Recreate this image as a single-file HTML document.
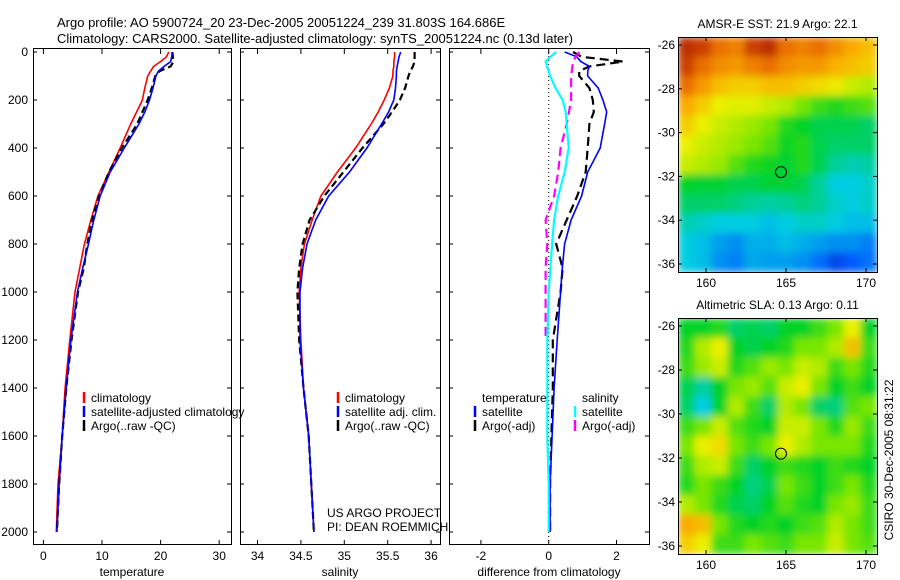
<!DOCTYPE html>
<html><head><meta charset="utf-8"><style>
html,body{margin:0;padding:0;background:#fff;}
svg{display:block;font-family:"Liberation Sans",Arial,sans-serif;}
text{font-size:12px;fill:#000;}
</style></head><body>
<svg id="c" width="900" height="580" viewBox="0 0 900 580">
<defs>
<filter id="bl" x="0" y="0" width="1" height="1"><feGaussianBlur stdDeviation="4" edgeMode="duplicate"/></filter>
<clipPath id="cm1"><rect x="678" y="37" width="199" height="235"/></clipPath>
<clipPath id="cm2"><rect x="678" y="318" width="199" height="236"/></clipPath>
</defs>
<text x="57" y="27" style="font-size:13px">Argo profile: AO 5900724_20 23-Dec-2005 20051224_239 31.803S 164.686E</text>
<text x="57" y="43" style="font-size:13px">Climatology: CARS2000. Satellite-adjusted climatology: synTS_20051224.nc (0.13d later)</text>
<g id="g"></g>
</svg>
<script>
// ---- profile data ----
const depths=[0,20,40,60,80,100,150,200,250,300,400,500,600,700,800,900,1000,1200,1400,1600,1800,2000];
const tempClim=[21.4,21.0,20.0,18.8,18.3,17.8,17.3,16.9,15.9,14.9,13.1,11.2,9.3,8.1,7.0,6.2,5.4,4.5,3.7,3.2,2.5,2.2];
const tempSat=[22.0,21.9,21.7,20.6,19.6,19.2,18.7,18.1,17.3,16.3,13.8,11.4,9.7,8.6,7.7,6.7,5.8,4.7,3.9,3.2,2.7,2.3];
const tempArgo=[22.0,22.1,22.2,21.7,19.8,19.1,18.5,17.8,16.9,16.0,13.4,11.2,9.5,8.3,7.5,6.9,5.9,4.8,3.9,3.2,2.7,2.3];
const salClim=[35.58,35.58,35.57,35.57,35.56,35.56,35.52,35.46,35.39,35.31,35.13,34.92,34.73,34.63,34.54,34.50,34.48,34.50,34.53,34.59,34.62,34.65];
const salSat=[35.65,35.63,35.62,35.61,35.60,35.60,35.59,35.57,35.51,35.43,35.26,35.06,34.82,34.67,34.57,34.52,34.49,34.49,34.53,34.59,34.62,34.65];
const salArgo=[35.81,35.81,35.81,35.79,35.76,35.74,35.70,35.64,35.55,35.45,35.21,34.99,34.77,34.60,34.52,34.48,34.46,34.48,34.53,34.59,34.62,34.65];
const dTempSat=[0.47,0.83,0.95,1.2,1.15,1.15,1.46,1.6,1.71,1.65,1.52,1.15,0.97,0.66,0.47,0.4,0.35,0.25,0.16,0.10,0.04,0.04];
const dTempArgo=[0.72,0.97,2.2,1.2,0.9,0.9,1.2,1.3,1.33,1.2,1.15,1.09,0.84,0.53,0.22,0.41,0.35,0.12,0.12,0.08,0.04,0.04];
const dSalSat=[0.22,0.05,-0.09,-0.05,0.0,0.04,0.2,0.41,0.5,0.53,0.59,0.47,0.28,0.16,0.1,0.05,0.0,-0.04,-0.04,-0.04,0.0,0.0];
const dSalArgo=[0.9,0.8,0.72,0.7,0.68,0.66,0.66,0.66,0.6,0.53,0.35,0.28,0.16,-0.09,-0.04,-0.09,-0.09,-0.09,null,null,null,null];
const depthTicks=[0,200,400,600,800,1000,1200,1400,1600,1800,2000];
const tTicks=[0,10,20,30], sTicks=[34,34.5,35,35.5,36], dTicks=[-2,0,2];
// ---- map data (normalised 0..1 on colormap) ----
const sstGrid=[
[.95,.92,.85,.82,.92,.95,.85,.82,.85,.80,.75,.72],
[.92,.85,.80,.78,.82,.85,.80,.78,.78,.74,.72,.70],
[.85,.78,.72,.70,.70,.72,.72,.70,.68,.66,.62,.60],
[.75,.70,.65,.64,.64,.62,.60,.55,.50,.48,.50,.52],
[.70,.65,.62,.60,.58,.55,.48,.45,.42,.42,.42,.40],
[.65,.62,.60,.58,.55,.52,.46,.48,.42,.40,.40,.40],
[.62,.60,.58,.52,.48,.46,.44,.48,.42,.36,.34,.35],
[.45,.44,.44,.42,.42,.44,.44,.42,.36,.30,.30,.32],
[.40,.40,.40,.38,.36,.35,.36,.38,.36,.32,.30,.32],
[.34,.32,.30,.30,.30,.28,.30,.32,.32,.30,.28,.28],
[.30,.28,.24,.22,.26,.26,.28,.26,.24,.22,.22,.20],
[.30,.28,.22,.20,.25,.24,.24,.22,.18,.12,.15,.18]];
const slaGrid=[
[.45,.45,.48,.40,.42,.40,.45,.45,.50,.55,.65,.45],
[.48,.60,.65,.45,.42,.45,.48,.55,.55,.60,.72,.50],
[.50,.58,.62,.48,.52,.58,.55,.62,.60,.50,.55,.48],
[.42,.35,.45,.55,.58,.52,.62,.65,.55,.45,.50,.45],
[.40,.30,.45,.60,.50,.40,.60,.55,.40,.38,.52,.55],
[.50,.55,.62,.52,.48,.45,.62,.62,.55,.48,.58,.50],
[.55,.65,.68,.55,.50,.55,.65,.60,.55,.55,.55,.48],
[.50,.60,.62,.50,.40,.45,.50,.48,.45,.50,.48,.45],
[.48,.55,.50,.45,.38,.42,.55,.50,.45,.50,.55,.48],
[.60,.55,.48,.42,.40,.45,.52,.48,.45,.55,.58,.50],
[.75,.72,.55,.48,.45,.48,.45,.50,.52,.60,.55,.50],
[.70,.65,.50,.50,.55,.52,.50,.55,.55,.62,.55,.52]];
const lonTicks=[160,165,170], latTicks=[-26,-28,-30,-32,-34,-36];
const floatLon=164.686, floatLat=-31.803;

const NS='http://www.w3.org/2000/svg';
const G=document.getElementById('g');
function mk(t,a,p){const e=document.createElementNS(NS,t);for(const k in a)e.setAttribute(k,a[k]);(p||G).appendChild(e);return e;}
const Y=d=>52+d*0.24;
const PT=52, PB=545;
const panels=[
 {x0:33,x1:231,sx:v=>43.4+5.86*v,ticks:tTicks,lab:'temperature',name:'temperature-panel',fmt:v=>v},
 {x0:240,x1:440,sx:v=>257.5+86.8*(v-34),ticks:sTicks,lab:'salinity',name:'salinity-panel',fmt:v=>v},
 {x0:449,x1:649,sx:v=>548.7+33.9*v,ticks:dTicks,lab:'difference from climatology',name:'difference-panel',fmt:v=>v}];
panels.forEach((p,i)=>{
 const g=mk('g',{});
 
 
 const r=mk('rect',{x:p.x0+0.5,y:PT-3.5,width:p.x1-p.x0,height:PB-PT+3,fill:'none',stroke:'#000'},g);
 
 
 p.ticks.forEach(v=>{const x=p.sx(v);
  mk('line',{x1:x,x2:x,y1:PB-0.5,y2:PB-5,stroke:'#000'},g);
  mk('line',{x1:x,x2:x,y1:PT-3,y2:PT+2,stroke:'#000'},g);
  const t=mk('text',{x:x,y:560,'text-anchor':'middle'},g);t.textContent=p.fmt(v);
  
  });
 const xl=mk('text',{x:(p.x0+p.x1)/2,y:576,'text-anchor':'middle'},g);xl.textContent=p.lab;
 
 
 depthTicks.forEach(d=>{const y=Y(d);
  mk('line',{x1:p.x1,x2:p.x1-4,y1:y,y2:y,stroke:'#000'},g);
  mk('line',{x1:p.x0,x2:p.x0+4,y1:y,y2:y,stroke:'#000'},g);
  if(i===0){const t=mk('text',{x:28,y:y+4,'text-anchor':'end'},g);t.textContent=d;
   
   }});
});
function line(vals,p,color,dash,w,name){
 let d='',pen=false;
 vals.forEach((v,k)=>{if(v===null){pen=false;return;}d+=(pen?'L':'M')+p.sx(v).toFixed(1)+','+Y(depths[k]).toFixed(1);pen=true;});
 const e=mk('path',{d:d,fill:'none',stroke:color,'stroke-width':w||2,'stroke-dasharray':dash||'none'});
 
 
}
const [P1,P2,P3]=panels;
line(tempClim,P1,'#f00',null,1.6,'temp-climatology-line');
line(tempArgo,P1,'#000','7,4',2.2,'temp-argo-line');
line(tempSat,P1,'#00f',null,1.6,'temp-satellite-line');
line(salClim,P2,'#f00',null,1.6,'sal-climatology-line');
line(salArgo,P2,'#000','7,4',2.2,'sal-argo-line');
line(salSat,P2,'#00f',null,1.6,'sal-satellite-line');
const zl=mk('line',{x1:P3.sx(0),x2:P3.sx(0),y1:PT,y2:PB,stroke:'#000','stroke-dasharray':'1,3'});


line(dTempArgo,P3,'#000','9,5',2.2,'diff-temp-argo-line');
line(dTempSat,P3,'#00f',null,1.6,'diff-temp-satellite-line');
line(dSalArgo,P3,'#f0f','9,5',2.2,'diff-sal-argo-line');
line(dSalSat,P3,'#0ff',null,2.2,'diff-sal-satellite-line');
function leg(x,y,color,label,name){
 if(color){const m=mk('line',{x1:x,x2:x,y1:y-10,y2:y+1,stroke:color,'stroke-width':2.5});
  
  }
 const t=mk('text',{x:x+7,y:y});t.textContent=label;
 
 
}
leg(84,402,'#f00','climatology','legend-climatology');
leg(84,416,'#00f','satellite-adjusted climatology','legend-satellite-adjusted');
leg(84,430,'#000','Argo(..raw -QC)','legend-argo');
leg(338,402,'#f00','climatology','legend-climatology-2');
leg(338,416,'#00f','satellite adj. clim.','legend-satellite-adj');
leg(338,430,'#000','Argo(..raw -QC)','legend-argo-2');
leg(475,402,null,'temperature','legend-temperature-header');
leg(475,416,'#00f','satellite','legend-temp-satellite');
leg(475,430,'#000','Argo(-adj)','legend-temp-argo');
leg(575,402,null,'salinity','legend-salinity-header');
leg(575,416,'#0ff','satellite','legend-sal-satellite');
leg(575,430,'#f0f','Argo(-adj)','legend-sal-argo');
let t=mk('text',{x:327,y:517});t.textContent='US ARGO PROJECT';


t=mk('text',{x:327,y:531});t.textContent='PI: DEAN ROEMMICH';



// ---- maps ----
const cmapStops=[[0,0,0,150],[0.15,0,90,255],[0.3,0,205,225],[0.45,0,210,40],[0.55,120,230,0],[0.65,235,240,0],[0.75,250,170,0],[0.87,230,100,0],[1,160,10,0]];
function cmap(v){v=Math.max(0,Math.min(1,v));
 for(let i=1;i<cmapStops.length;i++){const a=cmapStops[i-1],b=cmapStops[i];
  if(v<=b[0]){const f=(v-a[0])/(b[0]-a[0]);
   return 'rgb('+[1,2,3].map(k=>Math.round(a[k]+f*(b[k]-a[k]))).join(',')+')';}}
 return 'rgb(160,10,0)';}
function drawMap(grid,top,bot,title,clip,name){
 const L=678,R=877;
 const lx=lon=>706+16*(lon-160);
 const ly=lat=>top+8+(bot-top-16)/10*(-26-lat);
 const g=mk('g',{});
 
 
 const cg=mk('g',{'clip-path':'url(#'+clip+')'},g);
 const hg=mk('g',{filter:'url(#bl)'},cg);
 const nr=grid.length,nc=grid[0].length,cw=(R-L)/nc,ch=(bot-top)/nr;
 grid.forEach((row,i)=>row.forEach((v,j)=>{
  const c=mk('rect',{x:L+j*cw,y:top+i*ch,width:cw+0.6,height:ch+0.6,fill:cmap(v)},hg);
  
  }));
 mk('rect',{x:L+0.5,y:top+0.5,width:R-L,height:bot-top,fill:'none',stroke:'#000'},g);
 lonTicks.forEach(lo=>{const x=lx(lo);
  mk('line',{x1:x,x2:x,y1:bot,y2:bot-4,stroke:'#000'},g);
  mk('line',{x1:x,x2:x,y1:top,y2:top+4,stroke:'#000'},g);
  const t=mk('text',{x:x,y:bot+15,'text-anchor':'middle'},g);t.textContent=lo;
  
  });
 latTicks.forEach(la=>{const y=ly(la);
  mk('line',{x1:L,x2:L+4,y1:y,y2:y,stroke:'#000'},g);
  mk('line',{x1:R,x2:R-4,y1:y,y2:y,stroke:'#000'},g);
  const t=mk('text',{x:L-3,y:y+4,'text-anchor':'end'},g);t.textContent=la;
  
  });
 const c=mk('circle',{cx:lx(floatLon),cy:ly(floatLat),r:5.5,fill:'none',stroke:'#000'},g);
 
 
 const tt=mk('text',{x:(L+R)/2,y:top-9,'text-anchor':'middle'},g);tt.textContent=title;
 
 
}
drawMap(sstGrid,37,272,'AMSR-E SST: 21.9 Argo: 22.1','cm1','sst-map');
drawMap(slaGrid,318,554,'Altimetric SLA: 0.13 Argo: 0.11','cm2','sla-map');
t=mk('text',{x:0,y:0,transform:'translate(893,460) rotate(-90)','text-anchor':'middle'});
t.textContent='CSIRO 30-Dec-2005 08:31:22';


</script>
</body></html>
